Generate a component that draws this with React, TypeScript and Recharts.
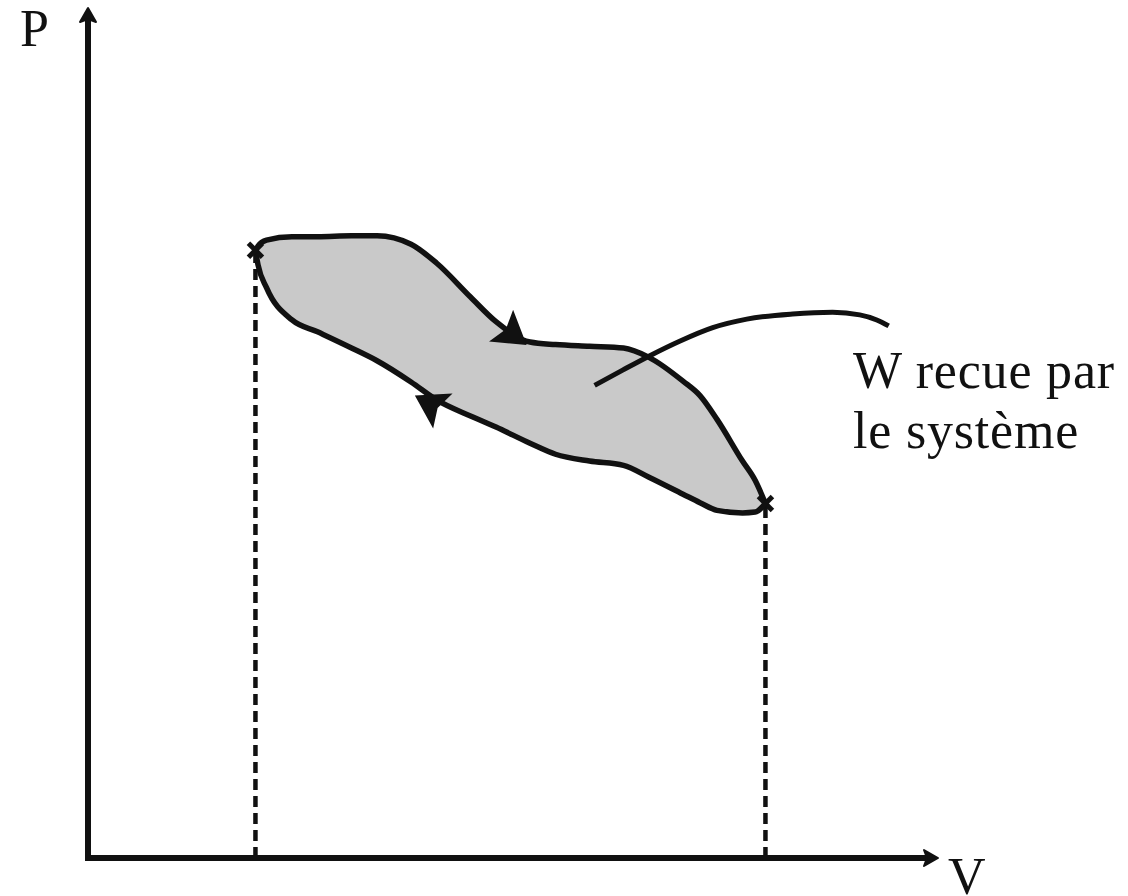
import { ComposedChart, Area, Line, Scatter, XAxis, YAxis, ReferenceLine } from 'recharts'

// cycle in the P-V plane, V on a 0..10 scale, P on a 0..10 scale
const loopV = [1.97, 2.0, 2.1, 2.4, 2.7, 3.1, 3.4, 3.8, 4.1, 4.5, 4.8, 5.2, 5.5, 5.9, 6.3, 6.6, 7.0, 7.2, 7.4, 7.7, 7.85, 7.97]
const upperP = [7.15, 7.2, 7.27, 7.31, 7.31, 7.32, 7.32, 7.22, 7.0, 6.6, 6.31, 6.07, 6.04, 6.02, 6.0, 5.89, 5.61, 5.44, 5.16, 4.67, 4.44, 4.17]
const lowerP = [7.15, 6.98, 6.71, 6.33, 6.19, 6.0, 5.85, 5.6, 5.39, 5.2, 5.07, 4.88, 4.75, 4.67, 4.62, 4.48, 4.28, 4.18, 4.09, 4.06, 4.07, 4.17]

// pointer line towards the label
const pointerV = [5.96, 6.29, 6.61, 6.96, 7.35, 7.75, 8.29, 8.76, 9.08, 9.28, 9.42]
const pointerP = [5.56, 5.74, 5.91, 6.08, 6.24, 6.34, 6.4, 6.42, 6.39, 6.33, 6.26]

// end states of the cycle
const stateV = [1.97, 7.97]
const stateP = [7.15, 4.17]

// direction arrows on the path (heading in degrees, screen frame)
const arrowV = [5.01, 4.01]
const arrowP = [6.15, 5.35]
const arrowHeading = [37, 209]

const loopData = loopV.map((v, i) => ({ v, upper: upperP[i], lower: lowerP[i] }))
const pointerData = pointerV.map((v, i) => ({ v, p: pointerP[i] }))
const stateData = stateV.map((v, i) => ({ v, p: stateP[i] }))
const arrowData = arrowV.map((v, i) => ({ v, p: arrowP[i], heading: arrowHeading[i] }))

const ink = '#111'
const serif = '"Liberation Serif", "Times New Roman", serif'

function AxisArrow(props: any) {
  const { x1, y1, x2, y2 } = props
  const ang = (Math.atan2(y2 - y1, x2 - x1) * 180) / Math.PI
  const len = Math.hypot(x2 - x1, y2 - y1)
  return (
    <g transform={`translate(${x1},${y1}) rotate(${ang})`}>
      <line x1={0} y1={0} x2={len - 8} y2={0} stroke={ink} strokeWidth={6} strokeLinecap="square" />
      <path d={`M${len},0 L${len - 14},-8 L${len - 11},0 L${len - 14},8 Z`} fill={ink} stroke={ink} strokeWidth={2} strokeLinejoin="round" />
    </g>
  )
}

function StateMark(props: any) {
  const { cx, cy } = props
  const s = 7
  return (
    <g stroke={ink} strokeWidth={5}>
      <line x1={cx - s} y1={cy - s} x2={cx + s} y2={cy + s} />
      <line x1={cx - s} y1={cy + s} x2={cx + s} y2={cy - s} />
    </g>
  )
}

function ArrowHead(props: any) {
  const { cx, cy, payload } = props
  return (
    <path
      transform={`translate(${cx},${cy}) rotate(${payload.heading})`}
      d="M16,0 L-16,-20 L-10,0 L-16,20 Z"
      fill={ink}
    />
  )
}

export default function App() {
  return (
    <div style={{ position: 'absolute', left: 0, top: 0, width: 1128, height: 896, background: '#fff' }}>
      <ComposedChart width={1128} height={896} data={loopData} margin={{ top: 8, right: 190, bottom: 38, left: 88 }}>
        <XAxis type="number" dataKey="v" domain={[0, 10]} hide allowDataOverflow />
        <YAxis type="number" domain={[0, 10]} hide allowDataOverflow />

        <ReferenceLine segment={[{ x: stateV[0], y: 0 }, { x: stateV[0], y: stateP[0] }]} stroke={ink} strokeWidth={4.5} strokeDasharray="11 6" />
        <ReferenceLine segment={[{ x: stateV[1], y: 0 }, { x: stateV[1], y: stateP[1] }]} stroke={ink} strokeWidth={4.5} strokeDasharray="11 6" />

        <Area type="monotone" dataKey={(d: any) => [d.lower, d.upper]} fill="#c9c9c9" fillOpacity={1} stroke="none" isAnimationActive={false} activeDot={false} />
        <Line type="monotone" dataKey="upper" stroke={ink} strokeWidth={5.5} dot={false} activeDot={false} isAnimationActive={false} />
        <Line type="monotone" dataKey="lower" stroke={ink} strokeWidth={5.5} dot={false} activeDot={false} isAnimationActive={false} />
        <Line data={pointerData} type="monotone" dataKey="p" stroke={ink} strokeWidth={5} dot={false} activeDot={false} isAnimationActive={false} />

        <Scatter data={arrowData} dataKey="p" shape={ArrowHead} isAnimationActive={false} />
        <Scatter data={stateData} dataKey="p" shape={StateMark} isAnimationActive={false} />

        <ReferenceLine segment={[{ x: 0, y: 0 }, { x: 10, y: 0 }]} shape={AxisArrow} />
        <ReferenceLine segment={[{ x: 0, y: 0 }, { x: 0, y: 10 }]} shape={AxisArrow} />

        <text x={20} y={46} fontFamily={serif} fontSize={52} fill={ink}>P</text>
        <text x={948} y={894} fontFamily={serif} fontSize={52} fill={ink}>V</text>
        <text x={853} y={388} fontFamily={serif} fontSize={52} letterSpacing={0.8} fill={ink}>W recue par</text>
        <text x={853} y={448} fontFamily={serif} fontSize={52} letterSpacing={0.8} fill={ink}>le système</text>
      </ComposedChart>
    </div>
  )
}
